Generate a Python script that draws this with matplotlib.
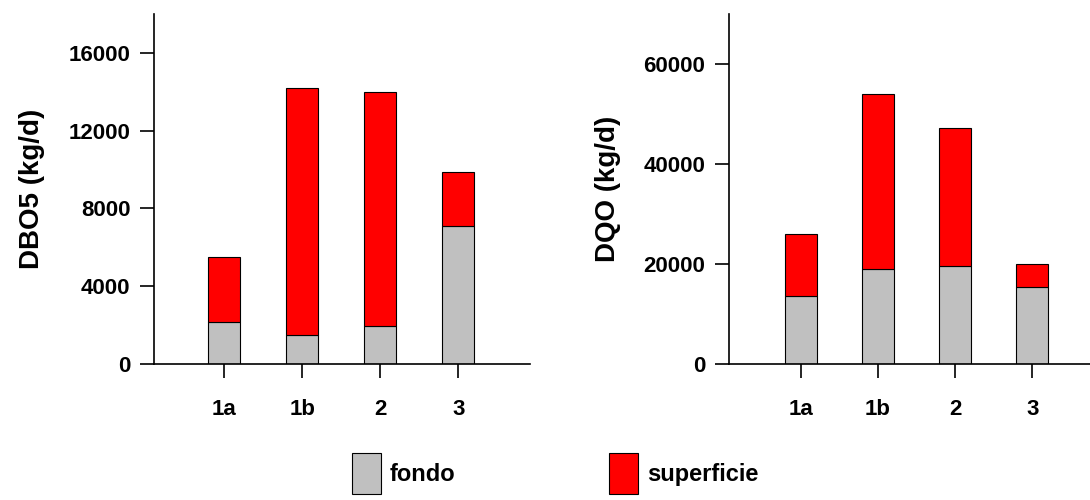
"""
Carichi di DBO5 e DQO per sezione: barre impilate fondo / superficie.
"""

import matplotlib.pyplot as plt
import numpy as np
from matplotlib.patches import Patch

sezioni = ["1a", "1b", "2", "3"]

# DBO5 (kg/d)
dbo_fondo = [2150, 1500, 1950, 7100]
dbo_totale = [5500, 14200, 14000, 9900]
dbo_superficie = [t - f for t, f in zip(dbo_totale, dbo_fondo)]

# DQO (kg/d)
dqo_fondo = [13700, 19100, 19700, 15500]
dqo_totale = [26000, 54000, 47200, 20100]
dqo_superficie = [t - f for t, f in zip(dqo_totale, dqo_fondo)]

COL_FONDO = "#c0c0c0"
COL_SUP = "#ff0000"

plt.rcParams["font.family"] = ["Liberation Sans", "DejaVu Sans"]
plt.rcParams["font.weight"] = "bold"


def disegna_pannello(ax, fondo, superficie, ylim, yticks, ylabel, xlim, xlab):
    x = np.arange(len(sezioni))
    w = 0.41
    ax.bar(x, fondo, w, color=COL_FONDO, edgecolor="black", linewidth=0.8)
    ax.bar(x, superficie, w, bottom=fondo, color=COL_SUP, edgecolor="black", linewidth=0.8)

    ax.set_xlim(*xlim)
    ax.set_ylim(0, ylim)
    ax.set_xticks(x)
    ax.set_xticklabels(sezioni, fontsize=16, fontweight="bold")
    ax.set_yticks(yticks)
    ax.set_yticklabels([str(v) for v in yticks], fontsize=16, fontweight="bold")
    ax.set_ylabel(ylabel, fontsize=20, fontweight="bold")
    # posizione dell'etichetta fissata a mano (bordo destro del testo ruotato)
    ax.yaxis.set_label_coords(xlab, 0.5)

    for lato in ("top", "right"):
        ax.spines[lato].set_visible(False)
    for lato in ("left", "bottom"):
        ax.spines[lato].set_linewidth(1.2)
    ax.tick_params(axis="y", direction="out", length=10, width=1.2, pad=7)
    ax.tick_params(axis="x", direction="out", length=10, width=1.2, pad=15)


fig = plt.figure(figsize=(10.9, 5.0), dpi=100)
ax1 = fig.add_axes([154 / 1090, 1 - 364 / 500, (530 - 154) / 1090, 350 / 500])
ax2 = fig.add_axes([729 / 1090, 1 - 364 / 500, (1090 - 729) / 1090, 350 / 500])

disegna_pannello(ax1, dbo_fondo, dbo_superficie, 18000,
                 [0, 4000, 8000, 12000, 16000], "DBO5 (kg/d)", (-0.9, 3.92), -0.29)
disegna_pannello(ax2, dqo_fondo, dqo_superficie, 70000,
                 [0, 20000, 40000, 60000], "DQO (kg/d)", (-0.93, 3.75), -0.30)

maniglie = [
    Patch(facecolor=COL_FONDO, edgecolor="black", linewidth=0.8),
    Patch(facecolor=COL_SUP, edgecolor="black", linewidth=0.8),
]
fig.legend(
    maniglie, ["fondo", "superficie"],
    loc="upper left", bbox_to_anchor=(352 / 1090, 1 - 453 / 500),
    ncol=2, frameon=False, fontsize=17,
    handlelength=1.23, handleheight=2.3, handletextpad=0.38,
    columnspacing=6.5, borderpad=0, borderaxespad=0,
)

plt.savefig("out.png", dpi=100)
